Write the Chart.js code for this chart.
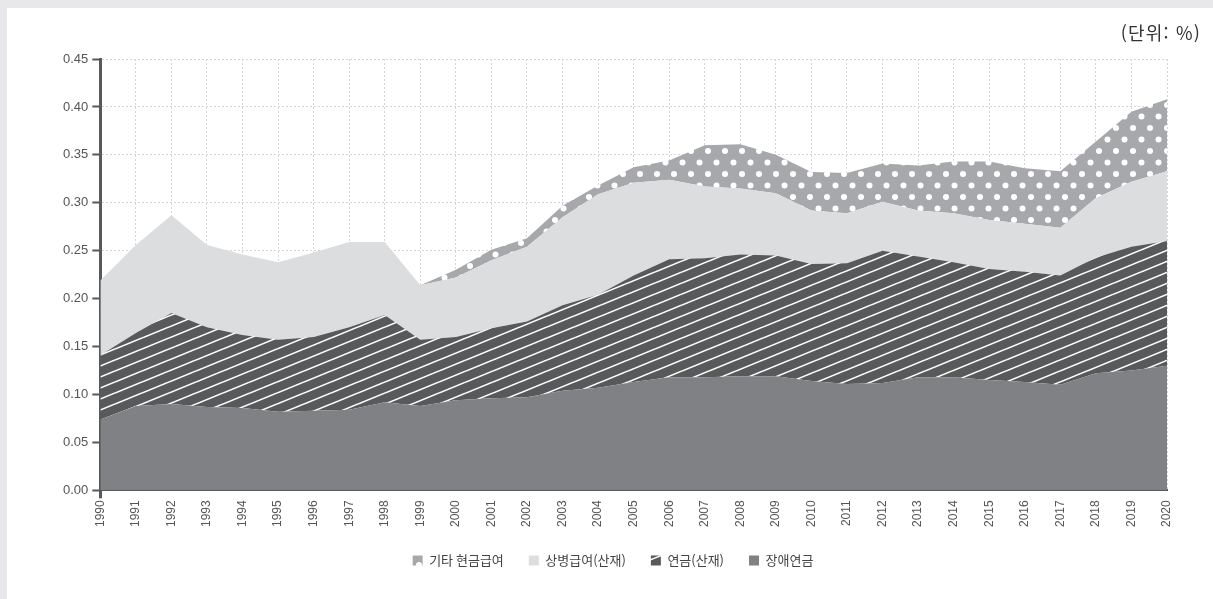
<!DOCTYPE html>
<html lang="ko">
<head>
<meta charset="utf-8">
<script src="https://cdn.jsdelivr.net/npm/chart.js@4.4.1/dist/chart.umd.min.js"></script>
<style>
  html, body { margin: 0; padding: 0; background: #e8e8ea; width: 1213px; height: 599px; overflow: hidden; }
  #panel { position: absolute; left: 7px; top: 8px; width: 1206px; height: 591px; background: #ffffff; }
  #unit { position: absolute; right: 12px; top: 11px; font-family: "Noto Sans CJK KR", "Noto Sans", sans-serif; font-size: 18px; letter-spacing: 1.2px; color: #333; }
  canvas { position: absolute; left: 0; top: 0; }
</style>
</head>
<body>
<div id="panel">
  <canvas id="chart" width="1206" height="591"></canvas>
  <div id="unit">(단위: %)</div>
</div>
<script>
// 연도
const years = ['1990','1991','1992','1993','1994','1995','1996','1997','1998','1999','2000',
               '2001','2002','2003','2004','2005','2006','2007','2008','2009','2010',
               '2011','2012','2013','2014','2015','2016','2017','2018','2019','2020'];

// 계열별 값 (누적 아님, 각 계열 몫)
const disability = [0.074,0.088,0.090,0.087,0.086,0.082,0.083,0.084,0.092,0.088,0.094,
                    0.096,0.097,0.104,0.107,0.113,0.118,0.118,0.119,0.119,0.114,
                    0.111,0.112,0.118,0.118,0.115,0.113,0.110,0.122,0.125,0.130];
const pension = [0.067,0.076,0.095,0.083,0.076,0.075,0.077,0.086,0.091,0.069,0.066,
                 0.073,0.079,0.089,0.097,0.111,0.123,0.124,0.127,0.126,0.122,
                 0.126,0.138,0.126,0.120,0.116,0.115,0.114,0.121,0.129,0.130];
const sickness = [0.078,0.092,0.102,0.086,0.084,0.081,0.088,0.089,0.076,0.057,0.062,
                  0.071,0.078,0.092,0.105,0.097,0.083,0.075,0.069,0.065,0.056,
                  0.052,0.051,0.048,0.051,0.051,0.050,0.050,0.062,0.068,0.073];
const otherCash = [0,0,0,0,0,0,0,0,0,0,0.008,
                   0.011,0.009,0.012,0.009,0.016,0.020,0.043,0.046,0.040,0.040,
                   0.042,0.040,0.047,0.054,0.061,0.058,0.059,0.059,0.073,0.075];

const yTicks = [0, 0.05, 0.10, 0.15, 0.20, 0.25, 0.30, 0.35, 0.40, 0.45];

// 빗금 패턴
function hatchPattern() {
    const w = 27, h = 11;
    const c = document.createElement('canvas');
    c.width = w; c.height = h;
    const g = c.getContext('2d');
    g.fillStyle = '#58595b';
    g.fillRect(0, 0, w, h);
    g.strokeStyle = '#ffffff';
    g.lineWidth = 1.6;
    for (let dy = -h; dy <= h; dy += h) {
        g.beginPath();
        g.moveTo(-w, 2 * h + dy);
        g.lineTo(2 * w, -h + dy);
        g.stroke();
    }
    return g.createPattern(c, 'repeat');
}

// 점 패턴
function dotPattern() {
    const w = 17, h = 23;
    const c = document.createElement('canvas');
    c.width = w; c.height = h;
    const g = c.getContext('2d');
    g.fillStyle = '#a7a8ab';
    g.fillRect(0, 0, w, h);
    g.fillStyle = '#ffffff';
    [[4, 5], [12.5, 16.5]].forEach(p => {
        g.beginPath();
        g.arc(p[0], p[1], 3, 0, Math.PI * 2);
        g.fill();
    });
    return g.createPattern(c, 'repeat');
}

const ctx = document.getElementById('chart').getContext('2d');

const chart = new Chart(ctx, {
    type: 'line',
    data: {
        labels: years,
        datasets: [
            { label: '장애연금', data: disability, backgroundColor: '#808184', fill: 'origin' },
            { label: '연금(산재)', data: pension, backgroundColor: hatchPattern(), fill: '-1' },
            { label: '상병급여(산재)', data: sickness, backgroundColor: '#dcdddf', fill: '-1' },
            { label: '기타 현금급여', data: otherCash, backgroundColor: dotPattern(), fill: '-1' }
        ]
    },
    options: {
        responsive: false,
        animation: false,
        elements: {
            line: { borderWidth: 0, tension: 0 },
            point: { radius: 0, hoverRadius: 0 }
        },
        layout: { padding: { left: 52, right: 46, top: 51, bottom: 22 } },
        scales: {
            x: {
                offset: false,
                grid: {
                    color: '#d6d6d6',
                    lineWidth: 1,
                    tickLength: 8,
                    tickWidth: 3,
                    tickColor: c => c.index === 0 ? '#58595b' : 'rgba(0,0,0,0)'
                },
                border: { color: '#58595b', width: 2, dash: [2, 2] },
                ticks: {
                    minRotation: 90,
                    maxRotation: 90,
                    autoSkip: false,
                    padding: 2,
                    color: '#555',
                    font: { family: 'Liberation Sans', size: 12 }
                }
            },
            y: {
                stacked: true,
                min: 0,
                max: 0.45,
                afterBuildTicks: axis => { axis.ticks = yTicks.map(v => ({ value: v })); },
                grid: {
                    color: '#d6d6d6',
                    lineWidth: 1,
                    tickLength: 8,
                    tickWidth: 2,
                    tickColor: '#58595b'
                },
                border: { color: '#58595b', width: 3, dash: [2, 2] },
                ticks: {
                    padding: 4,
                    color: '#555',
                    font: { family: 'Liberation Sans', size: 13 },
                    callback: v => Number(v).toFixed(2)
                }
            }
        },
        plugins: {
            tooltip: { enabled: false },
            legend: {
                position: 'bottom',
                reverse: true,
                labels: {
                    boxWidth: 10,
                    boxHeight: 10,
                    padding: 25,
                    color: '#444',
                    font: { family: 'Noto Sans CJK KR', size: 13 }
                }
            }
        }
    }
});
</script>
</body>
</html>
